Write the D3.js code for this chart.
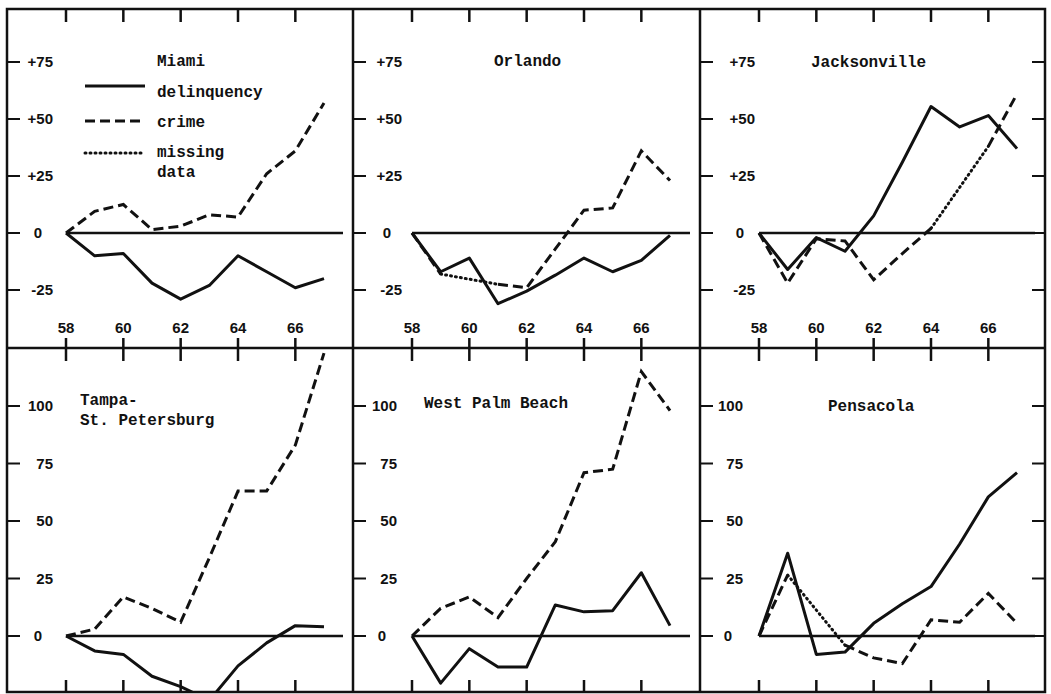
<!DOCTYPE html>
<html>
<head>
<meta charset="utf-8">
<script src="https://cdn.jsdelivr.net/npm/d3@7"></script>
<style>
  body { margin: 0; background: #fff; }
  .num { font-family: "Liberation Sans", sans-serif; font-size: 15px; font-weight: bold; fill: #111; }
  .title { font-family: "Liberation Mono", monospace; font-size: 16px; font-weight: bold; fill: #111; }
</style>
</head>
<body>
<div id="chart"></div>
<script>
// years 1958-1967
const years = [58, 59, 60, 61, 62, 63, 64, 65, 66, 67];
const yearTicks = [58, 60, 62, 64, 66];
const upperTicks = [75, 50, 25, 0, -25];
const upperTickLabels = ["+75", "+50", "+25", "0", "-25"];
const lowerTicks = [100, 75, 50, 25, 0];
const lowerTickLabels = ["100", "75", "50", "25", "0"];

// percent change since 1958; null = missing data (drawn dotted)
const miamiDelinquency = [0, -10, -9, -22, -29, -23, -10, -17, -24, -20];
const miamiCrime = [0, 9.5, 12.5, 1.5, 3, 8, 7, 26, 36, 57];
const orlandoDelinquency = [0, -17, -11, -31, -25.5, -18.5, -11, -17, -12, -1];
const orlandoCrime = [0, -18, null, -22.5, -24, -7, 10, 11, 36, 23];
const jacksonvilleDelinquency = [0, -16, -2, -8, 7.5, 31, 55.5, 46.5, 51.5, 37];
const jacksonvilleCrime = [0, -22, -2.5, -3.5, -20.5, -9, 2, null, 38, 61];
const tampaDelinquency = [0, -6.5, -8, -17.5, -22, -28, -13, -3, 4.5, 4];
const tampaCrime = [0, 3, 17, 12, 6, 34, 63, 63, 83, 123];
const palmDelinquency = [0, -20.5, -5.5, -13.5, -13.5, 13.5, 10.5, 11, 27.5, 4.5];
const palmCrime = [0, 12, 17, 8, 25, 41, 71, 72.5, 115, 98];
const pensacolaDelinquency = [0, 36, -8, -7, 5.5, 14, 21.5, 40, 60.5, 71];
const pensacolaCrime = [0, 26.5, null, -4, -9.5, -12, 7, 6, 18.5, 5.5];

const svgWidth = 1051;
const svgHeight = 694;
const colEdges = [7, 353, 700, 1045];
const rowEdges = [9, 348, 692];

const panels = [
  { title: ["Miami"], tx: 150, ty: 57, labelX: 46, row: 0, col: 0, del: miamiDelinquency, crime: miamiCrime },
  { title: ["Orlando"], tx: 141, ty: 57, labelX: 49, row: 0, col: 1, del: orlandoDelinquency, crime: orlandoCrime },
  { title: ["Jacksonville"], tx: 111, ty: 58, labelX: 55, row: 0, col: 2, del: jacksonvilleDelinquency, crime: jacksonvilleCrime },
  { title: ["Tampa-", "St. Petersburg"], tx: 73, ty: 57, labelX: 46, row: 1, col: 0, del: tampaDelinquency, crime: tampaCrime },
  { title: ["West Palm Beach"], tx: 71, ty: 60, labelX: 44, row: 1, col: 1, del: palmDelinquency, crime: palmCrime },
  { title: ["Pensacola"], tx: 128, ty: 63, labelX: 43, row: 1, col: 2, del: pensacolaDelinquency, crime: pensacolaCrime }
];

const ink = "#111";

const svg = d3.select("#chart")
    .append("svg")
    .attr("width", svgWidth)
    .attr("height", svgHeight);

const x = d3.scaleLinear().domain([58, 67]).range([59, 317]);
const yUpper = d3.scaleLinear().domain([0, 75]).range([224, 53]);
const yLower = d3.scaleLinear().domain([0, 100]).range([288, 58]);

panels.forEach(function(p, i) {
    const left = colEdges[p.col];
    const top = rowEdges[p.row];
    const w = colEdges[p.col + 1] - left;
    const h = rowEdges[p.row + 1] - top;
    const y = p.row === 0 ? yUpper : yLower;
    const ticks = p.row === 0 ? upperTicks : lowerTicks;
    const tickLabels = p.row === 0 ? upperTickLabels : lowerTickLabels;

    const g = svg.append("g").attr("transform", `translate(${left},${top})`);

    g.append("clipPath").attr("id", "clip" + i)
      .append("rect").attr("width", w).attr("height", h);

    // top / bottom year ticks
    g.selectAll(".ttick").data(yearTicks).join("line")
        .attr("class", "ttick")
        .attr("x1", d => x(d)).attr("x2", d => x(d))
        .attr("y1", 0).attr("y2", 13)
        .attr("stroke", ink).attr("stroke-width", 2.5);
    g.selectAll(".btick").data(yearTicks).join("line")
        .attr("class", "btick")
        .attr("x1", d => x(d)).attr("x2", d => x(d))
        .attr("y1", h).attr("y2", h - (p.row === 0 ? 10 : 12))
        .attr("stroke", ink).attr("stroke-width", 2.5);

    if (p.row === 0) {
        g.selectAll(".xlab").data(yearTicks).join("text")
            .attr("class", "num xlab")
            .attr("x", d => x(d))
            .attr("y", 324)
            .attr("text-anchor", "middle")
            .text(d => d);
    }

    // left ticks + labels
    g.selectAll(".ltick").data(ticks).join("line")
        .attr("class", "ltick")
        .attr("x1", 0).attr("x2", 13)
        .attr("y1", d => y(d)).attr("y2", d => y(d))
        .attr("stroke", ink).attr("stroke-width", 2);
    g.selectAll(".ylab").data(ticks).join("text")
        .attr("class", "num ylab")
        .attr("x", d => d === 0 ? p.labelX - 11 : p.labelX)
        .attr("y", d => y(d))
        .attr("dy", "0.36em")
        .attr("text-anchor", "end")
        .text((d, j) => tickLabels[j]);

    if (p.col === 2) {
        g.selectAll(".rtick").data(ticks).join("line")
            .attr("class", "rtick")
            .attr("x1", w).attr("x2", w - 13)
            .attr("y1", d => y(d)).attr("y2", d => y(d))
            .attr("stroke", ink).attr("stroke-width", 2);
    }

    // zero line
    g.append("line")
        .attr("x1", x(58)).attr("x2", w - 10)
        .attr("y1", y(0)).attr("y2", y(0))
        .attr("stroke", ink).attr("stroke-width", 2.5);

    // title
    const t = g.append("text").attr("class", "title").attr("x", p.tx).attr("y", p.ty);
    p.title.forEach(function(s, k) {
        t.append("tspan").attr("x", p.tx).attr("dy", k === 0 ? 0 : 20).text(s);
    });

    const plot = g.append("g").attr("clip-path", `url(#clip${i})`);

    const delData = years.map((yr, j) => ({ year: yr, v: p.del[j] }));
    const crimeData = years.map((yr, j) => ({ year: yr, v: p.crime[j] }));

    const line = d3.line()
        .defined(d => d.v != null)
        .x(d => x(d.year))
        .y(d => y(d.v));

    plot.append("path")
        .datum(delData)
        .attr("fill", "none")
        .attr("stroke", ink)
        .attr("stroke-width", 3)
        .attr("stroke-linejoin", "round")
        .attr("d", line);

    plot.append("path")
        .datum(crimeData)
        .attr("fill", "none")
        .attr("stroke", ink)
        .attr("stroke-width", 3)
        .attr("stroke-dasharray", "10,5")
        .attr("d", line);

    // dotted bridge over missing years
    const known = crimeData.filter(d => d.v != null);
    for (let k = 1; k < known.length; k++) {
        if (known[k].year - known[k - 1].year > 1) {
            plot.append("path")
                .datum([known[k - 1], known[k]])
                .attr("fill", "none")
                .attr("stroke", ink)
                .attr("stroke-width", 3)
                .attr("stroke-dasharray", "1,4")
                .attr("stroke-linecap", "round")
                .attr("d", line);
        }
    }

    // legend in Miami panel
    if (i === 0) {
        const leg = [
            { dash: null, label: ["delinquency"], ly: 77, ty: 88 },
            { dash: "10,5", label: ["crime"], ly: 112, ty: 118 },
            { dash: "1,4", label: ["missing", "data"], ly: 144, ty: 148 }
        ];
        leg.forEach(function(l) {
            g.append("line")
                .attr("x1", 78).attr("x2", 138)
                .attr("y1", l.ly).attr("y2", l.ly)
                .attr("stroke", ink).attr("stroke-width", 3)
                .attr("stroke-dasharray", l.dash)
                .attr("stroke-linecap", l.dash === "1,4" ? "round" : "butt");
            const lt = g.append("text").attr("class", "title").attr("x", 150).attr("y", l.ty);
            l.label.forEach(function(s, k) {
                lt.append("tspan").attr("x", 150).attr("dy", k === 0 ? 0 : 20).text(s);
            });
        });
    }
});

// frame and dividers
svg.append("rect")
    .attr("x", colEdges[0]).attr("y", rowEdges[0])
    .attr("width", colEdges[3] - colEdges[0])
    .attr("height", rowEdges[2] - rowEdges[0])
    .attr("fill", "none").attr("stroke", ink).attr("stroke-width", 2.5);
[colEdges[1], colEdges[2]].forEach(function(cx) {
    svg.append("line")
        .attr("x1", cx).attr("x2", cx)
        .attr("y1", rowEdges[0]).attr("y2", rowEdges[2])
        .attr("stroke", ink).attr("stroke-width", 2.5);
});
svg.append("line")
    .attr("x1", colEdges[0]).attr("x2", colEdges[3])
    .attr("y1", rowEdges[1]).attr("y2", rowEdges[1])
    .attr("stroke", ink).attr("stroke-width", 2.5);
</script>
</body>
</html>
